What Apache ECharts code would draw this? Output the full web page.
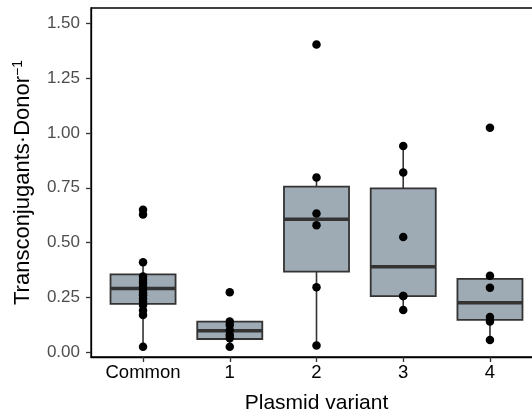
<!DOCTYPE html>
<html><head><meta charset="utf-8">
<script src="https://cdn.jsdelivr.net/npm/echarts@6/dist/echarts.min.js"></script>
<style>html,body{margin:0;padding:0;background:#fff;overflow:hidden}#c{width:532px;height:417px}</style>
</head><body><div id="c"></div>
<script>
var categories = ['Common', '1', '2', '3', '4'];
var lowerWhisker = [0.025, 0.025, 0.03, 0.192, 0.056];
var q1 = [0.22, 0.06, 0.367, 0.256, 0.147];
var median = [0.29, 0.098, 0.606, 0.39, 0.226];
var q3 = [0.355, 0.139, 0.755, 0.747, 0.334];
var upperWhisker = [0.41, 0.14, 0.797, 0.94, 0.349];
var pointsCommon = [0.65, 0.628, 0.41, 0.345, 0.33, 0.315, 0.30, 0.285, 0.27, 0.26, 0.245, 0.23, 0.215, 0.19, 0.17, 0.025];
var points1 = [0.273, 0.14, 0.124, 0.10, 0.078, 0.063, 0.025];
var points2 = [1.404, 0.797, 0.633, 0.579, 0.296, 0.03];
var points3 = [0.94, 0.82, 0.525, 0.256, 0.256, 0.192];
var points4 = [1.024, 0.349, 0.294, 0.16, 0.14, 0.056];
var yTicks = [0, 0.25, 0.5, 0.75, 1.0, 1.25, 1.5];

var allPoints = [pointsCommon, points1, points2, points3, points4];
var boxData = categories.map(function (c, i) {
  return [i, lowerWhisker[i], q1[i], median[i], q3[i], upperWhisker[i]];
});
var scatterData = [];
allPoints.forEach(function (arr, i) { arr.forEach(function (v) { scatterData.push([i, v]); }); });
var xIdx = categories.map(function (c, i) { return i; });

var chart = echarts.init(document.getElementById('c'), null, {renderer: 'canvas'});
chart.setOption({
  animation: false,
  grid: {left: 91, width: 451, top: 8, height: 349, outerBoundsMode: 'none', containLabel: false,
    show: true, borderColor: '#000', borderWidth: 1.3, backgroundColor: 'transparent'},
  xAxis: {
    type: 'value', min: -0.6, max: 4.6,
    name: 'Plasmid variant', nameLocation: 'middle', nameGap: 36,
    nameTextStyle: {fontFamily: 'Liberation Sans', fontSize: 21, color: '#000'},
    axisLine: {show: true, onZero: false, lineStyle: {color: '#000', width: 1.3}},
    axisTick: {show: true, length: 5, customValues: xIdx, lineStyle: {color: '#333', width: 1.3}},
    axisLabel: {customValues: xIdx, margin: 6, fontFamily: 'Liberation Sans', fontSize: 18.5, color: '#000',
      formatter: function (v) { return categories[Math.round(v)]; }},
    splitLine: {show: false}
  },
  yAxis: {
    type: 'value', min: -0.022, max: 1.57,
    name: 'Transconjugants·Donor{sup|−1}', nameLocation: 'middle', nameGap: 56, nameRotate: 90,
    nameTextStyle: {fontFamily: 'Liberation Sans', fontSize: 22, color: '#000',
      rich: {sup: {fontFamily: 'Liberation Sans', fontSize: 14, color: '#000', padding: [0, 0, 10, 0]}}},
    axisLine: {show: true, onZero: false, lineStyle: {color: '#000', width: 1.3}},
    axisTick: {show: true, length: 5, customValues: yTicks, lineStyle: {color: '#333', width: 1.3}},
    axisLabel: {customValues: yTicks, margin: 11, fontFamily: 'Liberation Sans', fontSize: 17, color: '#4D4D4D',
      formatter: function (v) { return v.toFixed(2); }},
    splitLine: {show: false}
  },
  series: [
    {
      type: 'custom',
      data: boxData,
      encode: {x: 0, y: [1, 2, 3, 4, 5]},
      z: 2,
      renderItem: function (params, api) {
        var x = api.value(0);
        var lo = api.coord([x, api.value(1)]);
        var a = api.coord([x, api.value(2)]);
        var m = api.coord([x, api.value(3)]);
        var b = api.coord([x, api.value(4)]);
        var hi = api.coord([x, api.value(5)]);
        var hw = api.size([0.75, 0])[0] / 2;
        var stroke = '#333333';
        return {
          type: 'group',
          children: [
            {type: 'line', shape: {x1: lo[0], y1: lo[1], x2: a[0], y2: a[1]}, style: {stroke: stroke, lineWidth: 1.6}},
            {type: 'line', shape: {x1: b[0], y1: b[1], x2: hi[0], y2: hi[1]}, style: {stroke: stroke, lineWidth: 1.6}},
            {type: 'rect', shape: {x: a[0] - hw, y: b[1], width: hw * 2, height: a[1] - b[1]},
              style: {fill: '#9EAAB4', stroke: stroke, lineWidth: 1.8}},
            {type: 'line', shape: {x1: m[0] - hw, y1: m[1], x2: m[0] + hw, y2: m[1]}, style: {stroke: stroke, lineWidth: 3.5}}
          ]
        };
      }
    },
    {
      type: 'scatter',
      data: scatterData,
      symbol: 'circle',
      symbolSize: 8.5,
      z: 5,
      itemStyle: {color: '#000', opacity: 1}
    }
  ]
});
</script>
</body></html>
